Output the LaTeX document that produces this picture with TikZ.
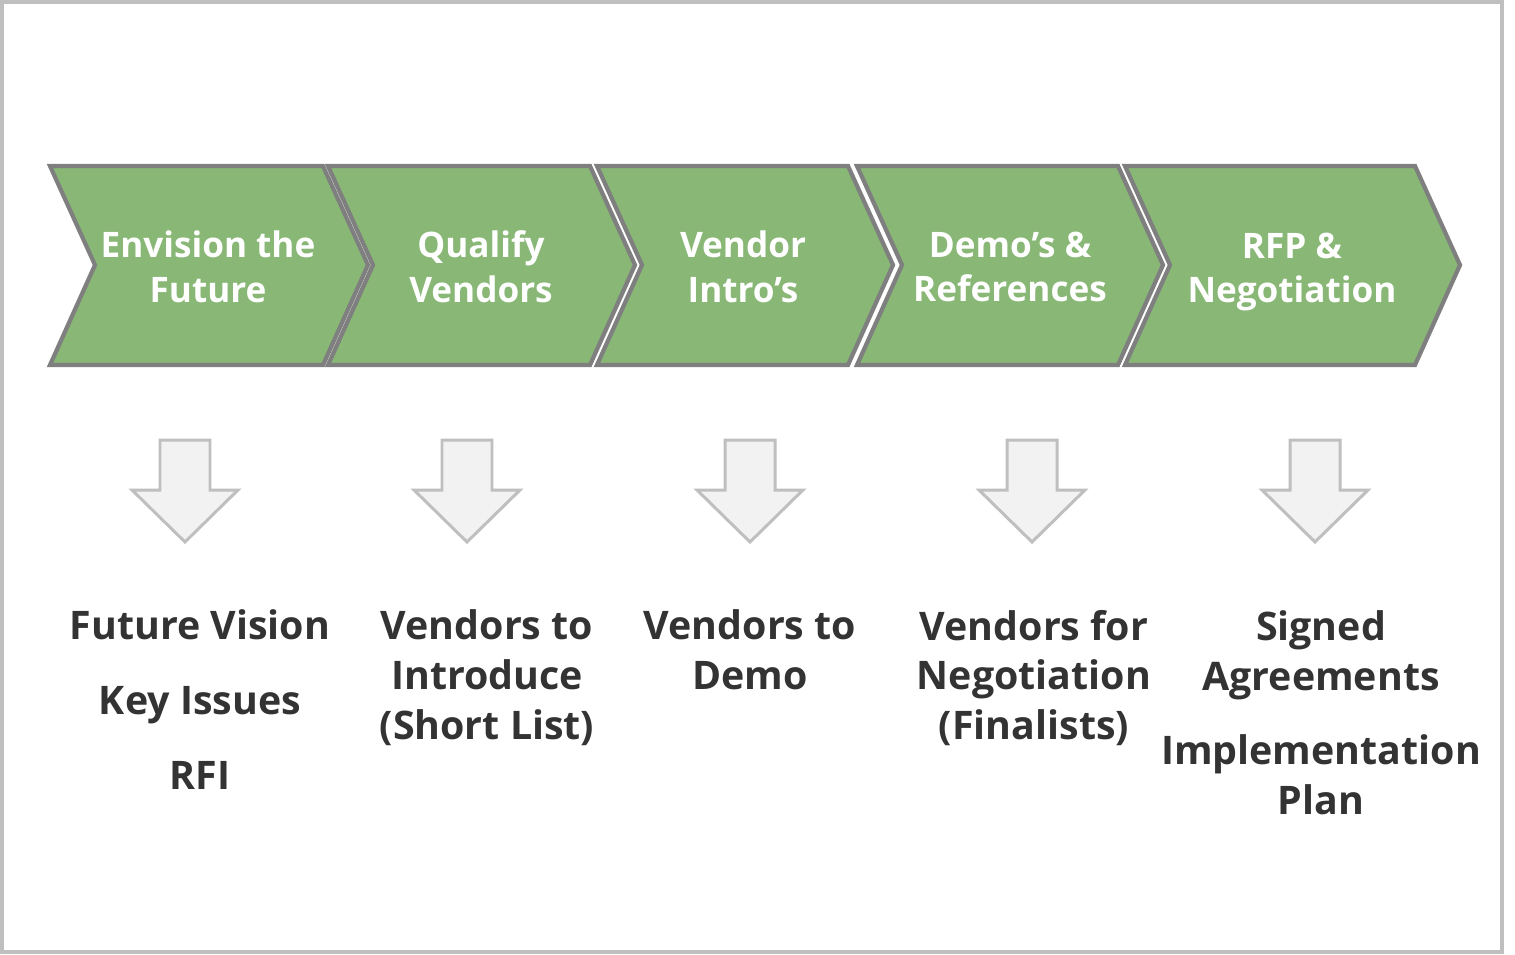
\documentclass[tikz,border=0pt]{standalone}
\usepackage{fontspec}
\setsansfont{Open Sans}
\usepackage{tikz}
\definecolor{chevgreen}{RGB}{136,183,118}
\definecolor{chevline}{RGB}{127,127,127}
\definecolor{arrowfill}{RGB}{242,242,242}
\definecolor{lightline}{RGB}{191,191,191}
\definecolor{darktext}{RGB}{51,51,51}

\begin{document}
\begin{tikzpicture}[x=0.02cm, y=-0.02cm, font=\sffamily\bfseries,
  chevron/.style={fill=chevgreen, draw=chevline, line width=2.4pt, line join=miter},
  downarrow/.style={fill=arrowfill, draw=lightline, line width=1.7pt},
  steplabel/.style={text=white, align=center, font=\sffamily\bfseries\fontsize{20}{25.5}\selectfont},
  result/.style={text=darktext, align=center, font=\sffamily\bfseries\fontsize{22.4}{28.4}\selectfont}]
  \useasboundingbox (0,0) rectangle (1515,954);
  \draw [lightline, line width=2pt] (1.75,1.75) rectangle (1502,952);
  % chevrons
  \foreach \xl/\xr in {50/323, 328/590, 597/848, 857/1118, 1125/1415}
    \draw [chevron] (\xl,166) -- (\xr,166) -- (\xr+45,265) -- (\xr,365) -- (\xl,365) -- (\xl+45,265) -- cycle;
  \node [steplabel] (envision) at (208,267) {Envision the\\Future};
  \node [steplabel] (qualify) at (481,267) {Qualify\\Vendors};
  \node [steplabel] (intros) at (743,267) {Vendor\\Intro’s};
  \node [steplabel] (demos) at (1010,267) {Demo’s \&\\References};
  \node [steplabel] (rfp) at (1292,272) {RFP \&\\Negotiation};
  % arrows
  \foreach \x in {185,467,750,1032,1315}
    \draw [downarrow] (\x-25,440) -- (\x+25,440) -- (\x+25,490) -- (\x+53,490) -- (\x,542) -- (\x-53,490) -- (\x-25,490) -- cycle;
  % results
  \node [result] (vision) at (200,625) {Future Vision};
  \node [result] (issues) at (200,705) {Key Issues};
  \node [result] (rfi) at (200,775) {RFI};
  \node [result] (shortlist) at (487,678) {Vendors to\\Introduce\\(Short List)};
  \node [result] (demo) at (750,650) {Vendors to\\Demo};
  \node [result] (finalists) at (1034,678) {Vendors for\\Negotiation\\(Finalists)};
  \node [result] (signed) at (1321,655) {Signed\\Agreements};
  \node [result] (plan) at (1321,775) {Implementation\\Plan};
\end{tikzpicture}
\end{document}
